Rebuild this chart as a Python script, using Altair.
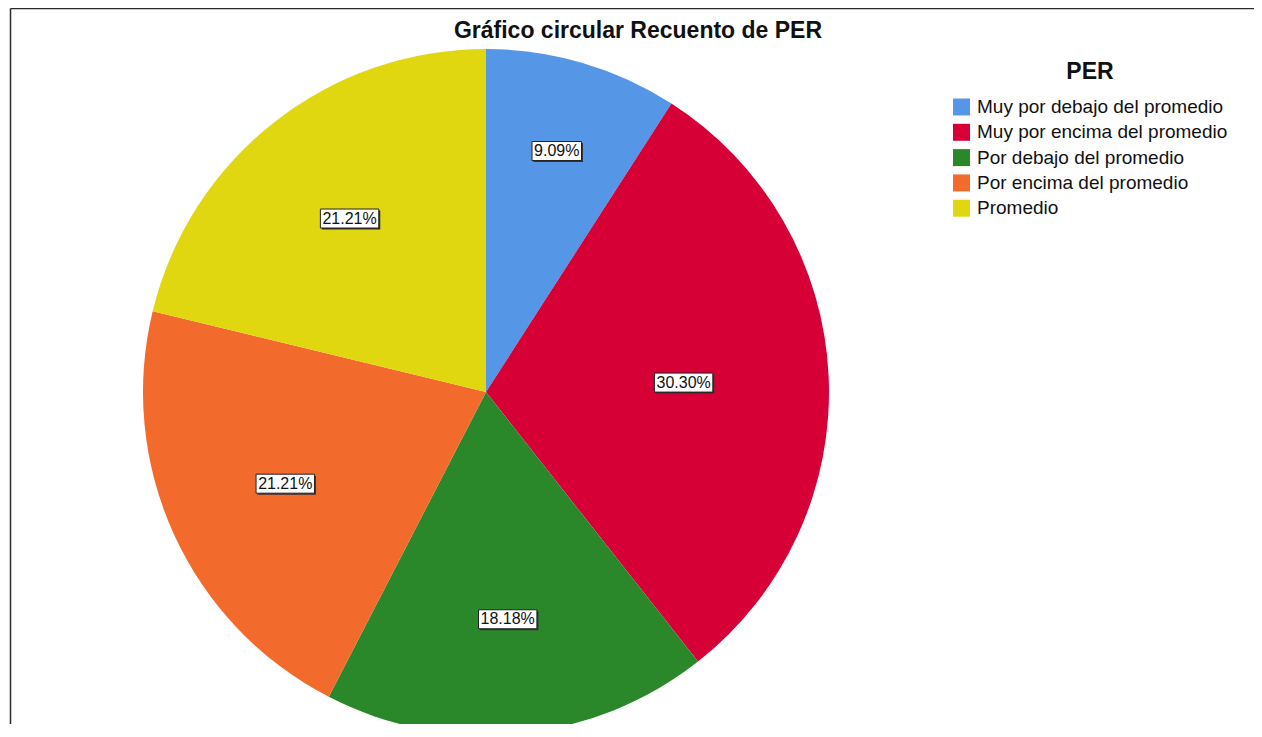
import altair as alt
import pandas as pd

TITLE = "Gráfico circular Recuento de PER"
LEGEND_TITLE = "PER"
CATEGORIES = [
    "Muy por debajo del promedio",
    "Muy por encima del promedio",
    "Por debajo del promedio",
    "Por encima del promedio",
    "Promedio",
]
PERCENTS = [9.09, 30.30, 18.18, 21.21, 21.21]
COLORS = ["#5596e6", "#d60036", "#2a882a", "#f26a2c", "#e1d710"]

W, H = 1244, 716
CX, CY = 476, 384
R = 343
FONT = "Liberation Sans"

df = pd.DataFrame({"idx": list(range(len(CATEGORIES))), "cat": CATEGORIES, "pct": PERCENTS})
base = alt.Chart(df)

pie = base.mark_arc(radius=R, stroke=None).encode(
    theta=alt.Theta("pct:Q", stack=True),
    order=alt.Order("idx:Q"),
    color=alt.Color(
        "cat:N",
        scale=alt.Scale(domain=CATEGORIES, range=COLORS),
        legend=alt.Legend(
            title=LEGEND_TITLE,
            orient="none",
            legendX=942,
            legendY=53,
            titleAnchor="middle",
            titleFont=FONT,
            titleFontSize=23,
            titleFontWeight="bold",
            titleColor="#111",
            titlePadding=13.5,
            labelFont=FONT,
            labelFontSize=19,
            labelColor="#111",
            labelLimit=400,
            labelOffset=6,
            symbolType="square",
            symbolSize=289,
            symbolStrokeWidth=0,
            symbolOpacity=1,
            rowPadding=5.3,
            padding=0,
        ),
    ),
    x=alt.value(CX),
    y=alt.value(CY),
)

lbl = base.transform_joinaggregate(total="sum(pct)").transform_window(
    cum="sum(pct)", sort=[alt.SortField("idx")], frame=[None, 0]
).transform_calculate(
    a0="2*PI*(datum.cum - datum.pct)/datum.total",
    a1="2*PI*datum.cum/datum.total",
).transform_calculate(
    mid="(datum.a0 + datum.a1)/2",
    al="datum.a1 - datum.a0",
).transform_calculate(
    rc="274 - 40*datum.al",
    label="format(datum.pct, '.2f') + '%'",
).transform_calculate(
    lx="datum.rc*sin(datum.mid)",
    ly="datum.rc*cos(datum.mid)",
    hw="4.45*length(datum.label) + 2.5",
).transform_calculate(
    box="'M' + (-datum.hw) + ',-9.5H' + datum.hw + 'V9.5H' + (-datum.hw) + 'Z'"
)

xs = alt.X("lx:Q", scale=alt.Scale(domain=[-CX, W - CX], nice=False, zero=False), axis=None)
ys = alt.Y("ly:Q", scale=alt.Scale(domain=[-(H - CY), CY], nice=False, zero=False), axis=None)

shadow = lbl.mark_point(filled=True, fill="#333333", stroke=None, opacity=1, xOffset=1.5, yOffset=1.5).encode(
    x=xs, y=ys, shape=alt.Shape("box:N", scale=None), size=alt.value(4)
)
boxes = lbl.mark_point(filled=True, fill="white", stroke="#222222", strokeWidth=1, opacity=1).encode(
    x=xs, y=ys, shape=alt.Shape("box:N", scale=None), size=alt.value(4)
)
texts = lbl.mark_text(font=FONT, fontSize=16, color="#111", align="center", baseline="middle").encode(
    x=xs, y=ys, text="label:N"
)

title = alt.Chart(pd.DataFrame({"t": [TITLE]})).mark_text(
    font=FONT, fontSize=23, fontWeight="bold", color="#111", align="center", baseline="middle"
).encode(text="t:N", x=alt.value(628), y=alt.value(23))

border = alt.Chart(pd.DataFrame({"k": [0]})).mark_rule(color="#2b2b2b", strokeWidth=1.5).encode(
    x=alt.value(0.5), x2=alt.value(W), y=alt.value(0.5)
)
border_left = alt.Chart(pd.DataFrame({"k": [0]})).mark_rule(color="#2b2b2b", strokeWidth=1.5).encode(
    x=alt.value(0.5), y=alt.value(0.5), y2=alt.value(H)
)

chart = alt.layer(pie, shadow, boxes, texts, title, border, border_left).properties(
    width=W,
    height=H,
    autosize=alt.AutoSizeParams(type="none"),
    padding={"left": 2, "top": 0, "right": 0, "bottom": 0},
    background="white",
).configure_view(stroke=None)

chart.save("out.html", embed_options={"renderer": "svg", "actions": False})
